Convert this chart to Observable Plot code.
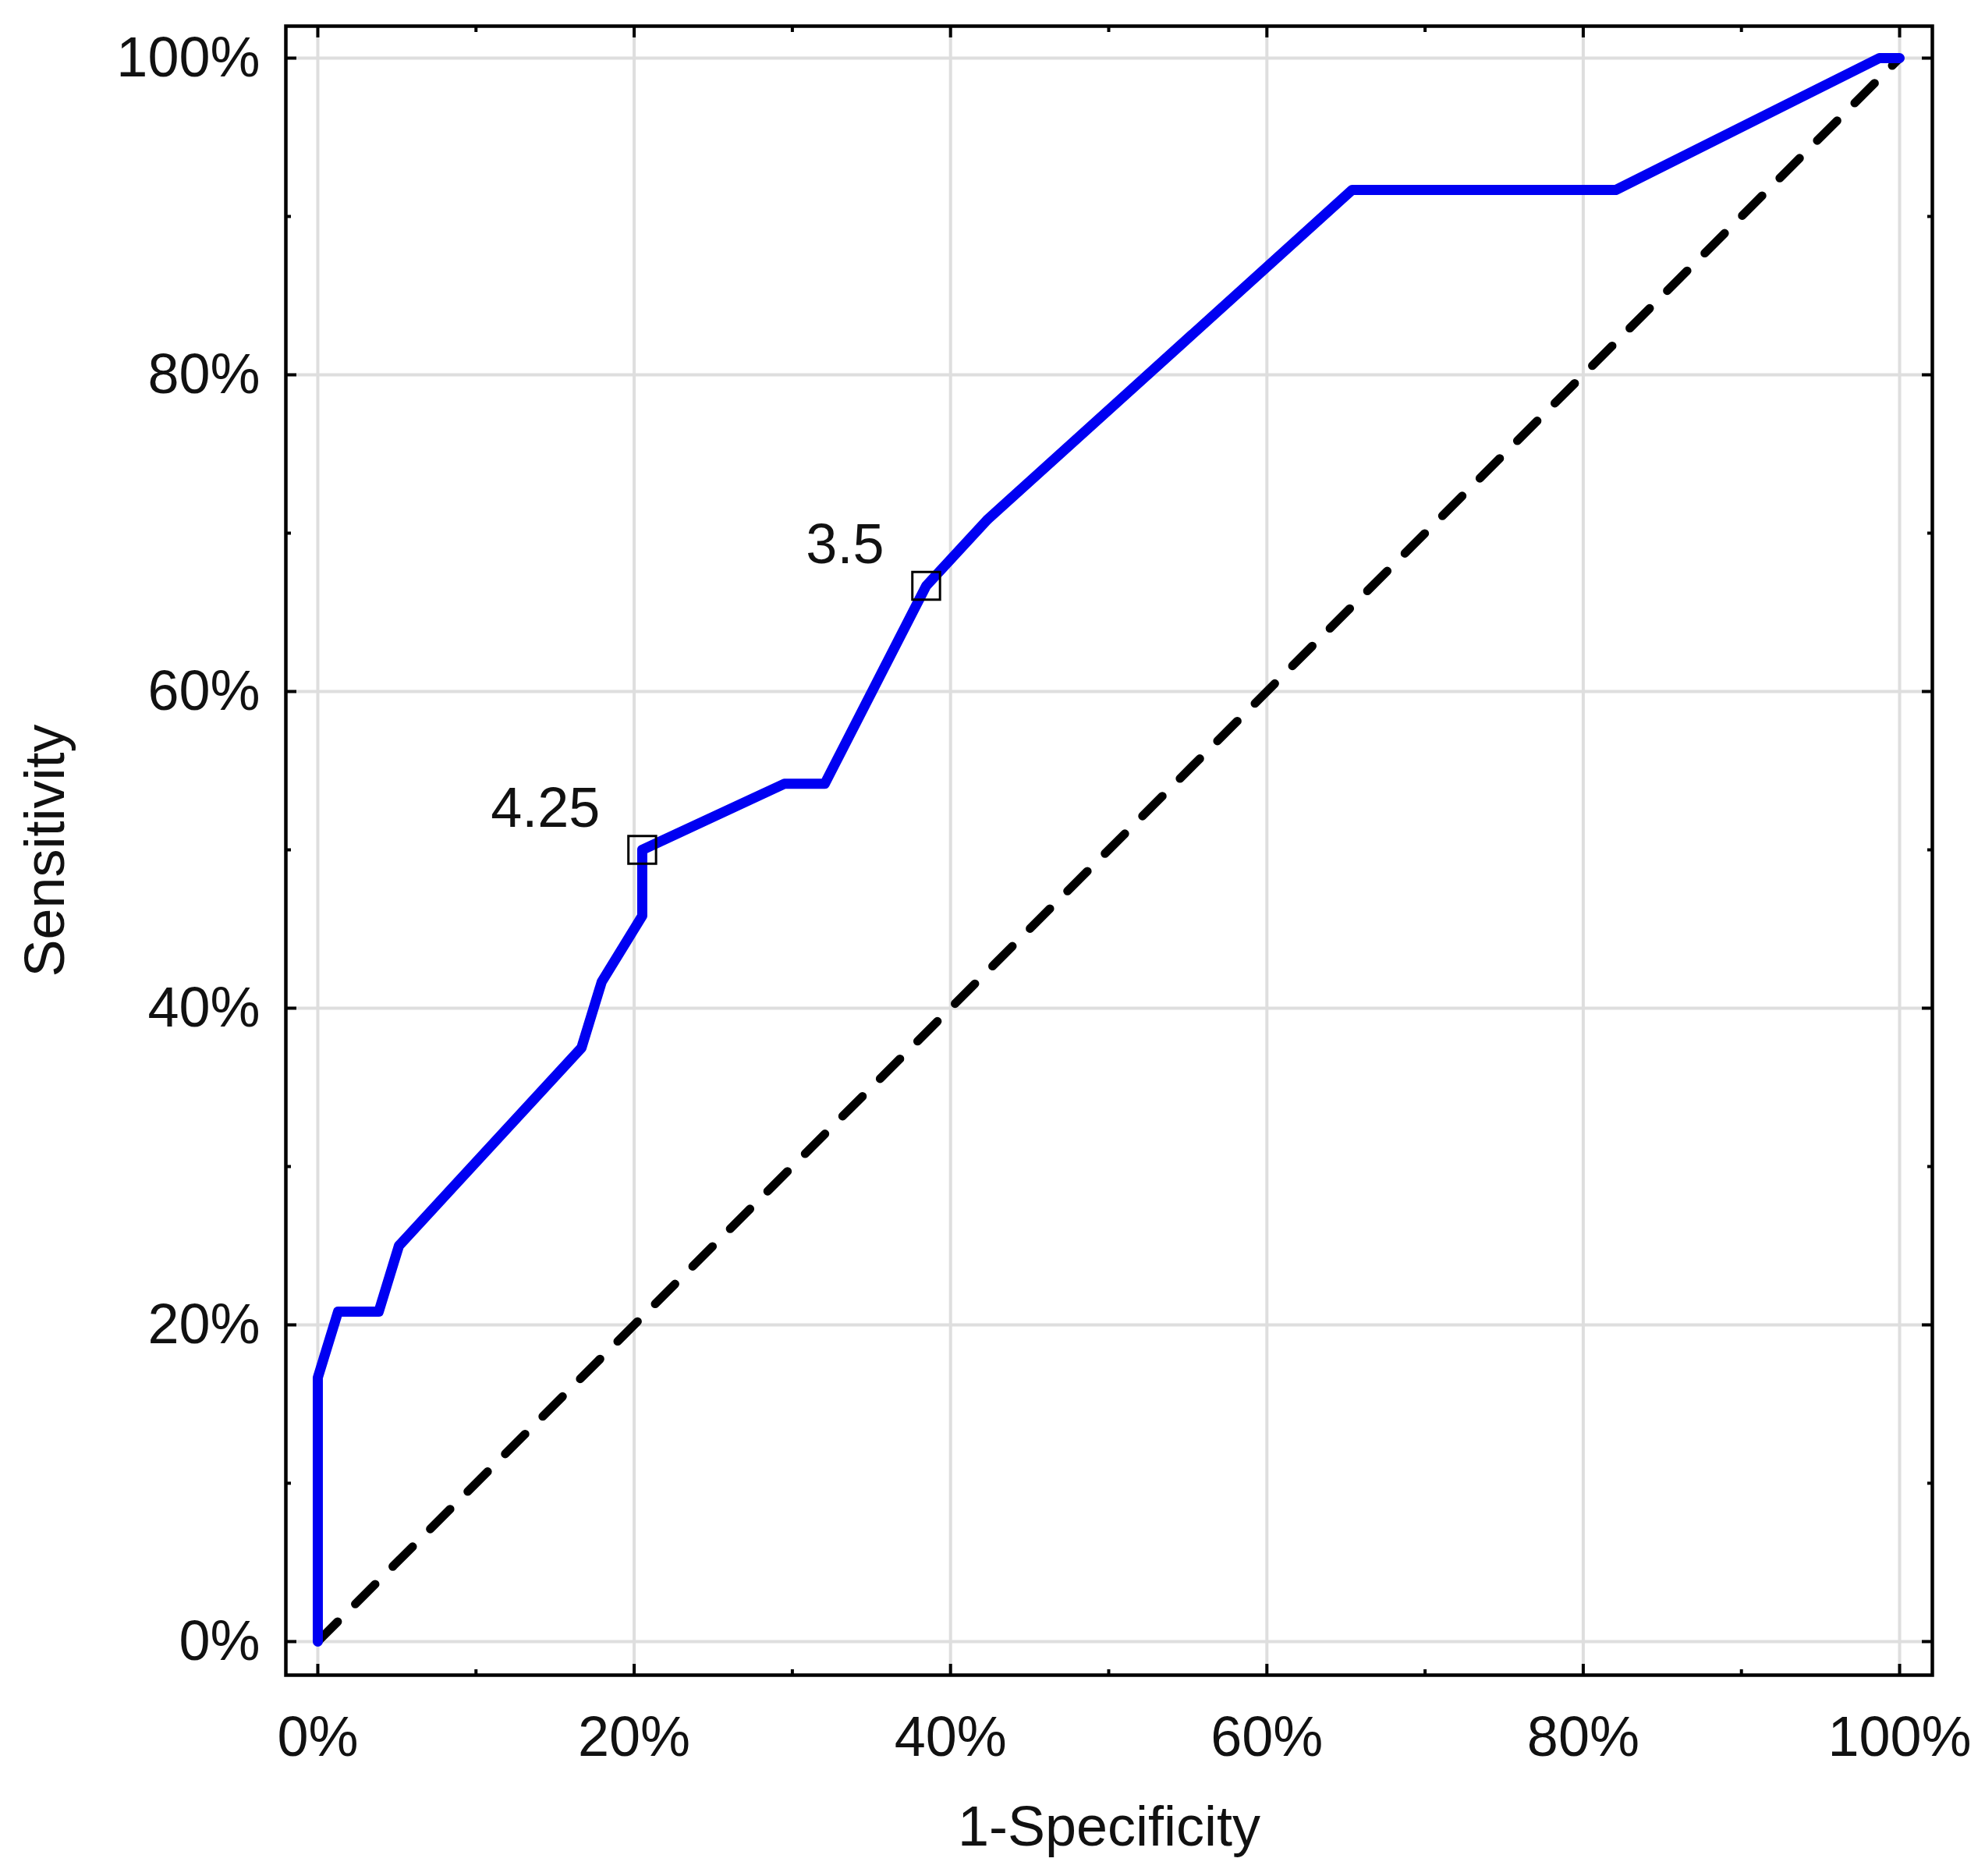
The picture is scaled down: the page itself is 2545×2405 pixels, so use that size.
<!DOCTYPE html>
<html>
<head>
<meta charset="utf-8">
<script src="https://cdn.jsdelivr.net/npm/d3@7"></script>
<script src="https://cdn.jsdelivr.net/npm/@observablehq/plot@0.6"></script>
<style>
  html, body { margin: 0; padding: 0; background: #fff; }
</style>
</head>
<body>
<div id="chart"></div>
<script>
// ROC curve points (1-Specificity %, Sensitivity %)
const fpr = [0, 0, 1.28, 3.85, 5.13, 16.67, 17.95, 20.51, 20.51, 29.49, 32.05, 38.46, 42.31, 65.38, 82.05, 98.72, 100];
const tpr = [0, 16.67, 20.83, 20.83, 25, 37.5, 41.67, 45.83, 50, 54.17, 54.17, 66.67, 70.83, 91.67, 91.67, 100, 100];

// Labelled cut-off points
const cutLabels = ["4.25", "3.5"];
const cutFpr = [20.51, 38.46];
const cutTpr = [50, 66.67];

// Reference diagonal
const diagX = [0, 100];
const diagY = [0, 100];

// Ticks
const majorTicks = [0, 20, 40, 60, 80, 100];
const minorTicks = [10, 30, 50, 70, 90];
const tickLabel = d => d + "%";

const xTitle = "1-Specificity";
const yTitle = "Sensitivity";

const roc = fpr.map((x, i) => ({x, y: tpr[i]}));
const cuts = cutLabels.map((t, i) => ({t, x: cutFpr[i], y: cutTpr[i]}));
const diag = diagX.map((x, i) => ({x, y: diagY[i]}));

const font = "'Liberation Sans', Arial, Helvetica, sans-serif";
const ink = "#111";
const gridStyle = {stroke: "#dedede", strokeOpacity: 1, strokeWidth: 4};
const tickStyle = {fill: "none", label: null, stroke: "#000", strokeWidth: 4};

const chart = Plot.plot({
  width: 2545,
  height: 2405,
  marginLeft: 366,
  marginRight: 68,
  marginTop: 33,
  marginBottom: 258,
  x: {domain: [-2.02, 102.07]},
  y: {domain: [-2.12, 102.02]},
  style: {fontFamily: font, fontSize: "72px", color: ink, background: "#fff", overflow: "visible"},
  marks: [
    Plot.gridX(majorTicks, gridStyle),
    Plot.gridY(majorTicks, gridStyle),
    Plot.line(diag, {x: "x", y: "y", stroke: "#000", strokeWidth: 11, strokeDasharray: "36,32"}),
    Plot.line(roc, {x: "x", y: "y", stroke: "#0000f2", strokeWidth: 13, strokeLinejoin: "round"}),
    Plot.dot(cuts, {x: "x", y: "y", symbol: "square", r: 20, stroke: "#000", strokeWidth: 3, fill: "none"}),
    Plot.text(cuts, {x: "x", y: "y", text: "t", textAnchor: "end", lineAnchor: "bottom", dx: -54, dy: -29, fontSize: 72, fill: ink}),
    Plot.frame({stroke: "#000", strokeWidth: 4.5}),
    // inward major ticks on all four sides
    Plot.axisX(majorTicks, {anchor: "bottom", tickSize: 14, dy: -14, ...tickStyle}),
    Plot.axisX(majorTicks, {anchor: "top", tickSize: 14, dy: 14, ...tickStyle}),
    Plot.axisY(majorTicks, {anchor: "left", tickSize: 14, dx: 14, ...tickStyle}),
    Plot.axisY(majorTicks, {anchor: "right", tickSize: 14, dx: -14, ...tickStyle}),
    // inward minor ticks
    Plot.axisX(minorTicks, {anchor: "bottom", tickSize: 7, dy: -7, ...tickStyle}),
    Plot.axisX(minorTicks, {anchor: "top", tickSize: 7, dy: 7, ...tickStyle}),
    Plot.axisY(minorTicks, {anchor: "left", tickSize: 7, dx: 7, ...tickStyle}),
    Plot.axisY(minorTicks, {anchor: "right", tickSize: 7, dx: -7, ...tickStyle}),
    // tick labels and titles
    Plot.axisX(majorTicks, {anchor: "bottom", tickSize: 0, tickPadding: 52, tickFormat: tickLabel, fontSize: 72, fill: ink,
      label: xTitle, labelAnchor: "center", labelOffset: 218, labelArrow: "none"}),
    Plot.axisY(majorTicks, {anchor: "left", tickSize: 0, tickPadding: 33, tickFormat: tickLabel, fontSize: 72, fill: ink,
      label: yTitle, labelAnchor: "center", labelOffset: 336, labelArrow: "none"})
  ]
});
document.getElementById("chart").appendChild(chart);
</script>
</body>
</html>
